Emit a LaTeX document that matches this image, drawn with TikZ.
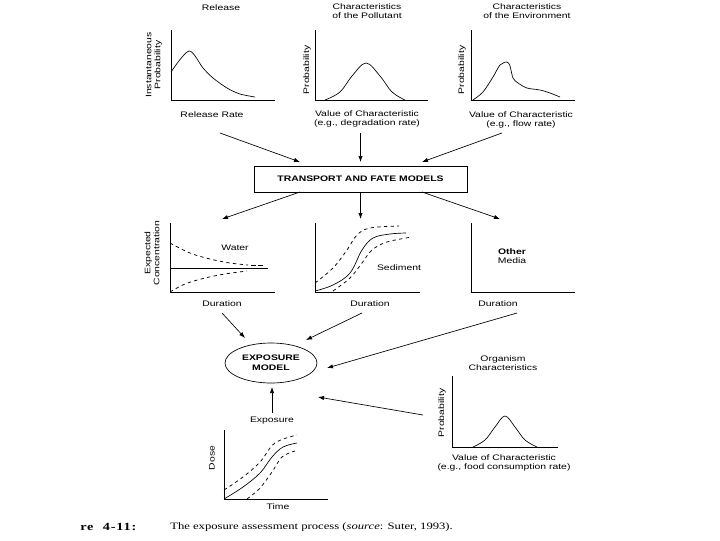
\documentclass[tikz,border=0pt]{standalone}
\usepackage{fontspec}
\setmainfont{Liberation Sans}[FakeStretch=1.3]
\newfontfamily\capfont{Liberation Serif}[FakeStretch=1.3]
\newfontfamily\capbfont{Liberation Serif}[FakeStretch=1.3,LetterSpace=8]
\usetikzlibrary{arrows.meta,shapes.geometric}
\begin{document}
\begin{tikzpicture}[x=0.75pt,y=-0.75pt,
  lbl/.style={inner sep=0pt,align=center,font=\fontsize{6}{6.8}\selectfont},
  blbl/.style={lbl,font=\fontsize{6}{6.8}\selectfont\bfseries},
  ylbl/.style={lbl,rotate=90},
  axis/.style={line width=0.7pt},
  crv/.style={line width=0.5pt},
  dcrv/.style={line width=0.55pt,dash pattern=on 2.5pt off 2.5pt},
  arr/.style={line width=0.5pt,-{Latex[length=4.5pt,width=3.2pt]}}]
\useasboundingbox (0,0) rectangle (720,540);
% ---------- Release ----------
\node[lbl] (t1) at (221,8) {Release};
\draw[axis] (171,30) -- (171,100) -- (275,100);
\draw[crv] plot[smooth,tension=0.5] coordinates {(171,72) (189,51) (203,68) (213,78) (227,88) (240,94) (255,97)};
\node[ylbl] (y1) at (154,65) {Instantaneous\\Probability};
\node[lbl] (x1) at (212,115) {Release Rate};
% ---------- Pollutant ----------
\node[lbl] (t2) at (367,11.5) {Characteristics\\of the Pollutant};
\draw[axis] (315,30) -- (315,100) -- (428,100);
\draw[crv] plot[smooth,tension=0.6] coordinates {(325,100) (340,92) (352,76) (366,63) (380,76) (392,92) (405,100)};
\node[ylbl] (y2) at (307,70) {Probability};
\node[lbl] (x2) at (367,118.5) {Value of Characteristic\\(e.g., degradation rate)};
% ---------- Environment ----------
\node[lbl] (t3) at (527,11.5) {Characteristics\\of the Environment};
\draw[axis] (471,30) -- (471,100) -- (575,100);
\draw[crv] plot[smooth,tension=0.5] coordinates {(473,100) (483,92) (493,77) (500,65) (507,62) (510,66) (513,78) (518,83) (527,88) (540,90) (550,93) (560,97)};
\node[ylbl] (y3) at (462,70) {Probability};
\node[lbl] (x3) at (521,119.5) {Value of Characteristic\\(e.g., flow rate)};
% ---------- Transport box ----------
\node[draw,line width=0.6pt,minimum width=159.75pt,minimum height=19.5pt,font=\fontsize{6}{7}\selectfont\bfseries,inner sep=0pt] (tfm) at (360.5,179) {TRANSPORT AND FATE MODELS};
\coordinate (s1) at (220,133); \coordinate (e1) at (300,162);
\coordinate (s2) at (360.5,133); \coordinate (e2) at (360.5,162);
\coordinate (s3) at (502,133); \coordinate (e3) at (422,162);
\coordinate (s4) at (300,192); \coordinate (e4) at (222,219);
\coordinate (s5) at (360.5,192); \coordinate (e5) at (360.5,219);
\coordinate (s6) at (422,192); \coordinate (e6) at (500,219);
\draw[arr] (s1) -- (e1);
\draw[arr] (s2) -- (e2);
\draw[arr] (s3) -- (e3);
\draw[arr] (s4) -- (e4);
\draw[arr] (s5) -- (e5);
\draw[arr] (s6) -- (e6);
% ---------- Water ----------
\draw[axis] (170,223) -- (170,292) -- (275,292);
\draw[crv,line width=0.7pt] (170,268) -- (268,268);
\draw[dcrv] plot[smooth,tension=0.6] coordinates {(170,243) (190,253) (210,259) (230,263) (248,265)};
\draw[line width=1.1pt] (251,265.5) -- (256,265.5) (258,265.5) -- (263,265.5);
\draw[dcrv] plot[smooth,tension=0.6] coordinates {(170,292) (185,284) (205,278) (225,274) (247,271)};
\node[lbl] (wat) at (235,248) {Water};
\node[ylbl] (y4) at (152,253) {Expected\\Concentration};
\node[lbl] (d1) at (222,304) {Duration};
% ---------- Sediment ----------
\draw[axis] (315,223) -- (315,292) -- (420,292);
\draw[crv] plot[smooth,tension=0.6] coordinates {(315,291) (333,285) (350,273) (362,250) (373,238) (390,234) (406,233)};
\draw[dcrv] plot[smooth,tension=0.6] coordinates {(315,283) (333,268) (347,250) (357,235) (370,228) (399,226)};
\draw[dcrv] plot[smooth,tension=0.6] coordinates {(333,291) (350,278) (362,263) (372,250) (387,242) (412,237)};
\node[lbl] (sed) at (399,268) {Sediment};
\node[lbl] (d2) at (370,304) {Duration};
% ---------- Other media ----------
\draw[axis] (471,223) -- (471,292) -- (575,292);
\node[lbl] (oth) at (512,256) {\textbf{Other}\\Media};
\node[lbl] (d3) at (498,304) {Duration};
% ---------- Exposure model ----------
\node[draw,ellipse,line width=0.5pt,minimum width=69pt,minimum height=30pt,inner sep=0pt,font=\fontsize{6}{7.2}\selectfont\bfseries,align=center] (em) at (271,363) {EXPOSURE\\MODEL};
\coordinate (s7) at (222,313); \coordinate (e7) at (245,338);
\coordinate (s8) at (362,313); \coordinate (e8) at (306,340);
\coordinate (s9) at (517,313); \coordinate (e9) at (327,368);
\coordinate (s10) at (423,415); \coordinate (e10) at (318,397);
\coordinate (s11) at (272,413); \coordinate (e11) at (272,387);
\draw[arr] (s7) -- (e7);
\draw[arr] (s8) -- (e8);
\draw[arr] (s9) -- (e9);
\draw[arr] (s10) -- (e10);
\draw[arr] (s11) -- (e11);
\node[lbl] (expo) at (272,421) {Exposure};
% ---------- Dose ----------
\draw[axis] (224,430) -- (224,499) -- (328,499);
\draw[crv] plot[smooth,tension=0.6] coordinates {(224,499) (243,487) (260,473) (272,457) (283,447) (297,443)};
\draw[dcrv] plot[smooth,tension=0.6] coordinates {(224,490) (243,477) (260,462) (275,443) (297,435)};
\draw[dcrv] plot[smooth,tension=0.6] coordinates {(247,499) (260,488) (272,472) (282,457) (295,451)};
\node[ylbl] (y5) at (212,458) {Dose};
\node[lbl] (tm) at (278,507) {Time};
% ---------- Organism ----------
\node[lbl] (t6) at (503,363.5) {Organism\\Characteristics};
\draw[axis] (452,376) -- (452,447) -- (558,447);
\draw[crv] plot[smooth,tension=0.6] coordinates {(473,447) (485,440) (495,427) (505,416) (515,427) (525,440) (537,447)};
\node[ylbl] (y6) at (442,413) {Probability};
\node[lbl] (x6) at (504,463) {Value of Characteristic\\(e.g., food consumption rate)};
% ---------- Caption ----------
\node[inner sep=0pt,anchor=west,font=\capbfont\fontsize{8.2}{9}\selectfont\bfseries] (cap1) at (80,527) {re\hspace{7pt}4-11:};
\node[inner sep=0pt,anchor=west,font=\capfont\fontsize{7.3}{8}\selectfont] (cap2) at (170,527) {The exposure assessment process (\textit{source}: Suter, 1993).};
\end{tikzpicture}
\end{document}
